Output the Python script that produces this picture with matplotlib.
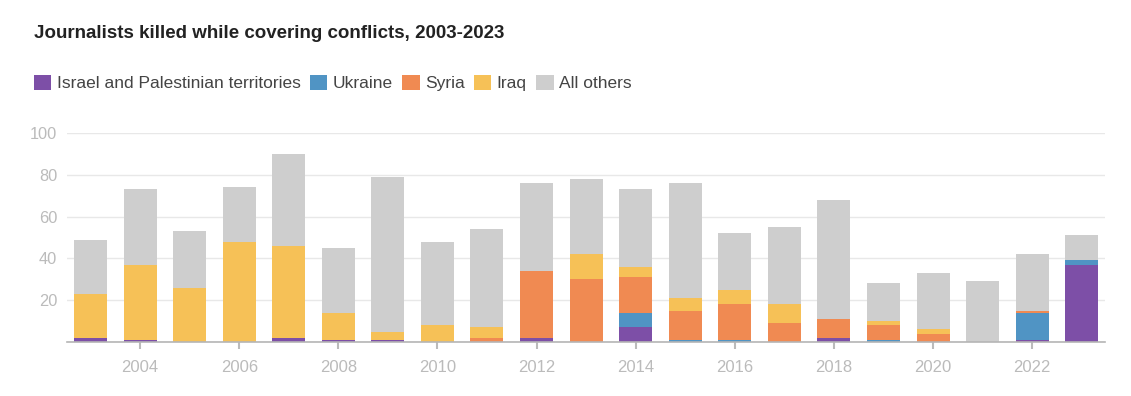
import numpy as np
import matplotlib as mpl
import matplotlib.pyplot as plt
from matplotlib.patches import Patch

# --- data ------------------------------------------------------------------
years = list(range(2003, 2024))
israel = [2, 1, 0, 0, 2, 1, 1, 0, 0, 2, 0, 7, 0, 0, 0, 2, 0, 0, 0, 1, 37]
ukraine = [0, 0, 0, 0, 0, 0, 0, 0, 0, 0, 0, 7, 1, 1, 0, 0, 1, 0, 0, 13, 2]
syria = [0, 0, 0, 0, 0, 0, 0, 0, 2, 32, 30, 17, 14, 17, 9, 9, 7, 4, 0, 1, 0]
iraq = [21, 36, 26, 48, 44, 13, 4, 8, 5, 0, 12, 5, 6, 7, 9, 0, 2, 2, 0, 0, 0]
others = [26, 36, 27, 26, 44, 31, 74, 40, 47, 42, 36, 37, 55, 27, 37, 57, 18, 27, 29, 27, 12]

series = [
    ("Israel and Palestinian territories", israel, "#7d4fa7"),
    ("Ukraine", ukraine, "#5094c4"),
    ("Syria", syria, "#f08a52"),
    ("Iraq", iraq, "#f6c157"),
    ("All others", others, "#cecece"),
]

TITLE = "Journalists killed while covering conflicts, 2003-2023"
INK = "#222222"
MUTED = "#bbbbbb"
GRID = "#e8e8e8"

mpl.rcParams.update({
    "font.family": ["Liberation Sans", "DejaVu Sans"],
})

fig = plt.figure(figsize=(11.31, 3.96), dpi=100)
ax = fig.add_axes([0.059, 0.1364, 0.918, 0.528])

x = np.array(years)
bottom = np.zeros(len(years))
for name, vals, col in series:
    v = np.array(vals, dtype=float)
    ax.bar(x, v, width=0.666, bottom=bottom, color=col, linewidth=0, zorder=3)
    bottom += v

ax.set_xlim(2002.52, 2023.47)
ax.set_ylim(0, 100)
ax.set_yticks(range(0, 101, 20))
ax.set_yticklabels(["", "20", "40", "60", "80", "100"])
ax.set_xticks(range(2004, 2023, 2))

ax.grid(axis="y", color=GRID, linewidth=1.0, zorder=0)
ax.grid(axis="x", visible=False)
for s in ("top", "right", "left"):
    ax.spines[s].set_visible(False)
ax.spines["bottom"].set_color("#b5b5b5")
ax.spines["bottom"].set_linewidth(1.2)
ax.spines["bottom"].set_zorder(4)

ax.tick_params(axis="y", length=0, pad=7, labelsize=11.8, labelcolor=MUTED)
ax.tick_params(axis="x", length=5, width=1.5, color=MUTED, pad=8,
               labelsize=12, labelcolor=MUTED)

fig.text(34 / 1131, 1 - 33 / 396, TITLE, fontsize=13.5, fontweight="bold",
         color=INK, ha="left", va="center")

handles = [Patch(facecolor=c, edgecolor="none", label=n) for n, _, c in series]
fig.legend(handles=handles, loc="center left", ncol=5, frameon=False,
           bbox_to_anchor=(34 / 1131, 1 - 83 / 396),
           fontsize=12.5, labelcolor="#444444",
           handlelength=1.0, handleheight=1.0, handletextpad=0.3,
           columnspacing=0.55, borderpad=0, borderaxespad=0)

fig.savefig("out.png", dpi=100, facecolor="white")
